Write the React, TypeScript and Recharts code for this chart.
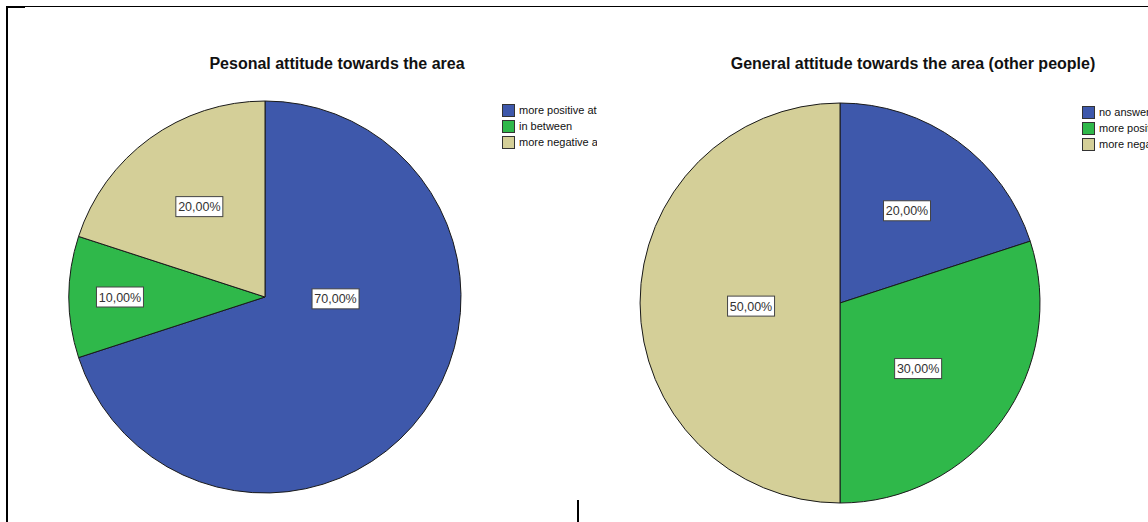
import { PieChart, Pie, Cell, Legend } from "recharts";

// Personal attitude (left pie)
const personalNames = ["more positive attitude", "in between", "more negative attitude"];
const personalValues = [70, 10, 20];

// General attitude, other people (right pie)
const generalNames = ["no answer", "more positive attitude", "more negative attitude"];
const generalValues = [20, 30, 50];

const sliceColors = ["#3e58ab", "#2fb84a", "#d4cf98"];

const FONT = "'Liberation Sans', Arial, sans-serif";
const RAD = Math.PI / 180;

type Place = { angle?: number; r: number };

// SPSS puts the labels in odd spots, so each slice gets a polar placement
const personalPlaces: Place[] = [{ angle: -1.5, r: 0.36 }, { r: 0.74 }, { r: 0.57 }];
const generalPlaces: Place[] = [{ r: 0.57 }, { angle: -40, r: 0.51 }, { angle: 182, r: 0.445 }];

const fmt = (v: number) => v.toFixed(2).replace(".", ",") + "%";

function makeLabel(places: Place[]) {
  return (props: any) => {
    const { cx, cy, midAngle, outerRadius, index, value } = props;
    const p = places[index];
    const a = (p.angle ?? midAngle) * RAD;
    const x = cx + outerRadius * p.r * Math.cos(a);
    const y = cy - outerRadius * p.r * Math.sin(a);
    const w = 47;
    const h = 20;
    return (
      <g>
        <rect x={x - w / 2} y={y - h / 2} width={w} height={h} fill="#fff" stroke="#444" strokeWidth={1} />
        <text x={x} y={y + 4.5} textAnchor="middle" fontSize={12.5} fontFamily={FONT} fill="#333">
          {fmt(value)}
        </text>
      </g>
    );
  };
}

// legend drawn in data order (recharts would sort it otherwise)
function LegendBox({ names }: { names: string[] }) {
  return (
    <div style={{ fontFamily: FONT, fontSize: 11, color: "#111", whiteSpace: "nowrap" }}>
      {names.map((n, i) => (
        <div key={i} style={{ display: "flex", alignItems: "center", height: 16 }}>
          <span
            style={{
              display: "inline-block",
              flexShrink: 0,
              width: 11,
              height: 11,
              background: sliceColors[i],
              border: "1px solid #333",
              marginRight: 4,
            }}
          />
          <span>{n}</span>
        </div>
      ))}
    </div>
  );
}

const toRows = (names: string[], values: number[]) => names.map((name, i) => ({ name, value: values[i] }));

export default function App() {
  const personal = toRows(personalNames, personalValues);
  const general = toRows(generalNames, generalValues);

  const title = (text: string, cx: number) => (
    <div
      style={{
        position: "absolute",
        left: cx - 250,
        width: 500,
        top: 55,
        textAlign: "center",
        fontFamily: FONT,
        fontWeight: "bold",
        fontSize: 16,
        color: "#111",
      }}
    >
      {text}
    </div>
  );

  return (
    <div style={{ position: "absolute", left: 0, top: 0, width: 1148, height: 522, overflow: "hidden", background: "#fff" }}>
      {/* frame lines */}
      <div style={{ position: "absolute", left: 6, top: 6, width: 1142, height: 1, background: "#000" }} />
      <div style={{ position: "absolute", left: 6, top: 6, width: 19, height: 2, background: "#000" }} />
      <div style={{ position: "absolute", left: 6, top: 6, width: 2, height: 516, background: "#000" }} />
      <div style={{ position: "absolute", left: 577, top: 500, width: 2, height: 22, background: "#000" }} />

      {title("Pesonal attitude towards the area", 337)}
      {title("General attitude towards the area (other people)", 913)}

      <div style={{ position: "absolute", left: 0, top: 0 }}>
        <PieChart width={578} height={522} margin={{ top: 0, right: 0, bottom: 0, left: 0 }}>
          <Pie
            data={personal}
            dataKey="value"
            nameKey="name"
            cx={265}
            cy={297}
            outerRadius={196}
            startAngle={90}
            endAngle={-270}
            stroke="#1a1a1a"
            strokeWidth={1}
            labelLine={false}
            label={makeLabel(personalPlaces)}
            isAnimationActive={false}
          >
            {personal.map((_, i) => (
              <Cell key={i} fill={sliceColors[i]} />
            ))}
          </Pie>
          <Legend
            layout="vertical"
            align="right"
            verticalAlign="top"
            content={() => <LegendBox names={personalNames} />}
            wrapperStyle={{ left: 502, top: 102, width: 95, overflow: "hidden", right: "auto" }}
          />
        </PieChart>
      </div>

      <div style={{ position: "absolute", left: 578, top: 0 }}>
        <PieChart width={570} height={522} margin={{ top: 0, right: 0, bottom: 0, left: 0 }}>
          <Pie
            data={general}
            dataKey="value"
            nameKey="name"
            cx={262}
            cy={303}
            outerRadius={200}
            startAngle={90}
            endAngle={-270}
            stroke="#1a1a1a"
            strokeWidth={1}
            labelLine={false}
            label={makeLabel(generalPlaces)}
            isAnimationActive={false}
          >
            {general.map((_, i) => (
              <Cell key={i} fill={sliceColors[i]} />
            ))}
          </Pie>
          <Legend
            layout="vertical"
            align="right"
            verticalAlign="top"
            content={() => <LegendBox names={generalNames} />}
            wrapperStyle={{ left: 504, top: 104, width: 120, right: "auto" }}
          />
        </PieChart>
      </div>
    </div>
  );
}
